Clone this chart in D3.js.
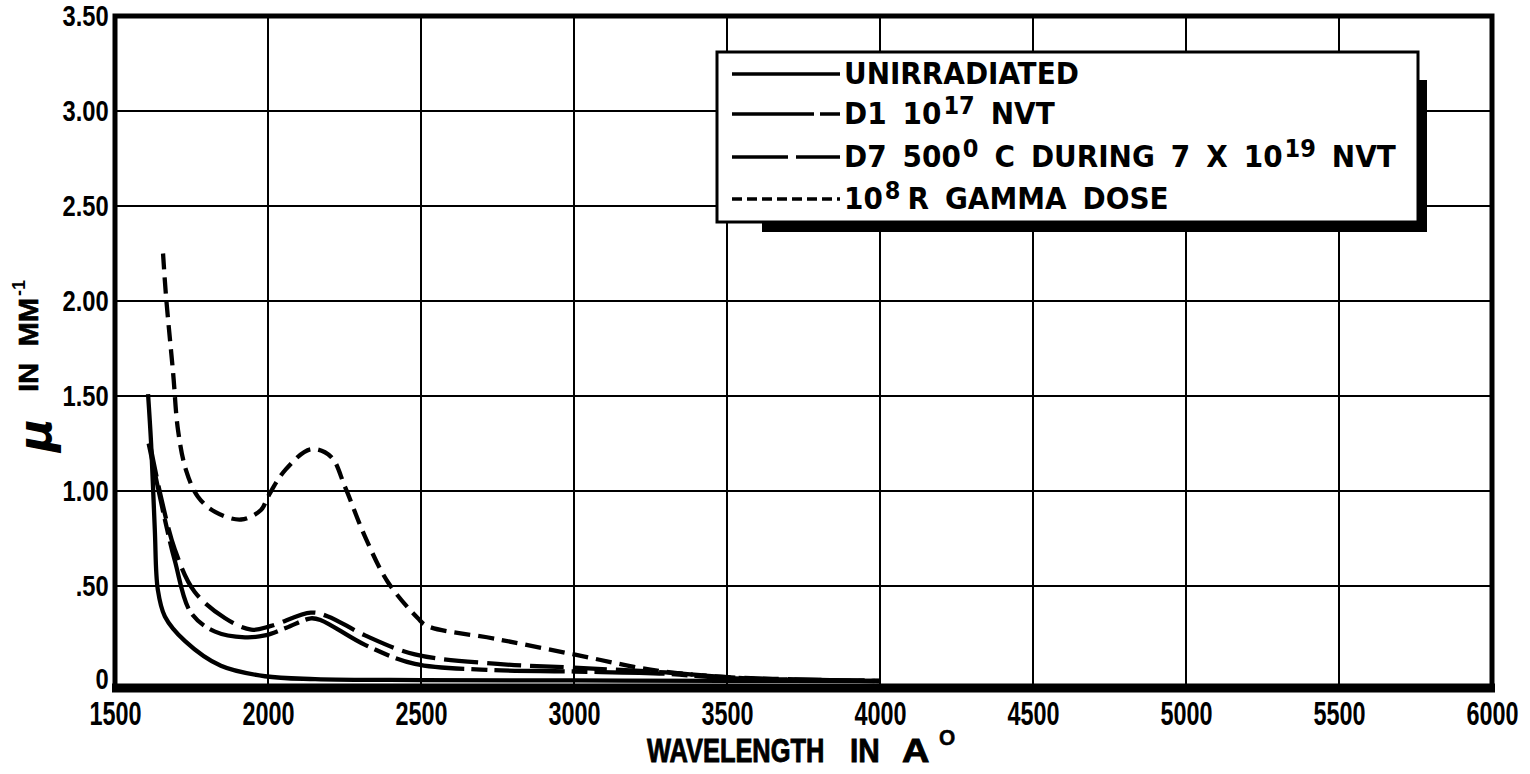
<!DOCTYPE html>
<html><head><meta charset="utf-8">
<script src="https://cdn.jsdelivr.net/npm/d3@7"></script>
<style>
body{margin:0;background:#fff;}
text{font-family:"Liberation Sans",Arial,sans-serif;font-weight:bold;fill:#000;}
</style></head><body>
<svg id="c" width="1530" height="774"></svg>
<script>
const xTicks=[1500,2000,2500,3000,3500,4000,4500,5000,5500,6000];
const yTicks=[0,0.5,1.0,1.5,2.0,2.5,3.0,3.5];
const yTickLabels=["0",".50","1.00","1.50","2.00","2.50","3.00","3.50"];
const seriesNames=["UNIRRADIATED","D1","D7","GAMMA"];
const unirrWl=[1608,1618,1630,1640,1663,1729,1846,1990,2154,2500,3000,3500,4000];
const unirrMu=[1.51,1.25,0.80,0.48,0.34,0.21,0.08,0.025,0.01,0.005,0.003,0.001,0.0];
const d1Wl=[1610,1663,1696,1748,1827,1925,1990,2060,2140,2173,2317,2480,2696,3000,3300,3500,3800,4000];
const d1Mu=[1.25,0.85,0.63,0.36,0.26,0.23,0.24,0.28,0.33,0.32,0.19,0.09,0.06,0.05,0.038,0.015,0.006,0.0];
const d7Wl=[1614,1650,1696,1760,1860,1945,2010,2140,2196,2317,2480,2750,3000,3300,3500,3800,4000];
const d7Mu=[1.25,0.97,0.69,0.47,0.33,0.27,0.29,0.36,0.34,0.24,0.14,0.09,0.07,0.045,0.02,0.006,0.0];
const gammaWl=[1657,1667,1690,1706,1732,1771,1827,1912,1977,2000,2056,2140,2206,2252,2317,2392,2490,2520,2750,3000,3250,3500,3700,4000];
const gammaMu=[2.25,2.02,1.62,1.32,1.11,0.97,0.89,0.85,0.90,0.97,1.11,1.22,1.18,1.02,0.76,0.52,0.33,0.29,0.22,0.14,0.06,0.02,0.005,0.0];
const legendLabels=[
  [{t:"UNIRRADIATED"}],
  [{t:"D1"},{t:"10"},{t:"17",sup:true},{t:"NVT"}],
  [{t:"D7"},{t:"500"},{t:"0",sup:true},{t:"C"},{t:"DURING"},{t:"7"},{t:"X"},{t:"10"},{t:"19",sup:true},{t:"NVT"}],
  [{t:"10"},{t:"8",sup:true},{t:"R",tight:true},{t:"GAMMA"},{t:"DOSE"}]
];
const dashes=[null,"70,7,16,7","34,9","16,8"];
const legendDashes=[null,"82,6,20,6","56,8","10,5"];

const svg=d3.select("#c");
const L=115,R=1492,T=16,B=681;
const x=d3.scaleLinear().domain([1500,6000]).range([L,R]);
const y=d3.scaleLinear().domain([0,3.5]).range([B,T]);

// grid
svg.append("g").selectAll("line").data(xTicks.slice(1,-1)).join("line")
 .attr("x1",d=>x(d)).attr("x2",d=>x(d)).attr("y1",T).attr("y2",B+4)
 .attr("stroke","#000").attr("stroke-width",2);
svg.append("g").selectAll("line").data(yTicks.slice(1,-1)).join("line")
 .attr("x1",L).attr("x2",R).attr("y1",d=>y(d)).attr("y2",d=>y(d))
 .attr("stroke","#000").attr("stroke-width",2);

// tick labels via d3 axes
const xa=svg.append("g").attr("transform",`translate(0,${B})`)
 .call(d3.axisBottom(x).tickValues(xTicks).tickSize(0).tickPadding(21).tickFormat(d3.format("d")));
xa.select(".domain").remove();
xa.selectAll("text").attr("font-size",33).attr("font-weight","bold").attr("fill","#000")
 .style("font-family",'"Liberation Sans",Arial,sans-serif').attr("transform","scale(0.71,1)");
const ya=svg.append("g").attr("transform",`translate(${L},0)`)
 .call(d3.axisLeft(y).tickValues(yTicks).tickSize(0).tickPadding(8).tickFormat((d,i)=>yTickLabels[i]));
ya.select(".domain").remove();
ya.selectAll("text").attr("font-size",30).attr("font-weight","bold").attr("fill","#000")
 .style("font-family",'"Liberation Sans",Arial,sans-serif').attr("transform","scale(0.79,1)")
 .attr("dy",(d)=>d===0?"0.25em":"0.32em");

// curves
const line=d3.line().x(d=>x(d[0])).y(d=>y(d[1])).curve(d3.curveCatmullRom.alpha(0.5));
const series=[[unirrWl,unirrMu],[d1Wl,d1Mu],[d7Wl,d7Mu],[gammaWl,gammaMu]];
series.forEach((s,i)=>{
  const pts=s[0].map((w,j)=>[w,s[1][j]]);
  svg.append("path").attr("d",line(pts)).attr("fill","none").attr("stroke","#000")
   .attr("stroke-width",4.3).attr("stroke-dasharray",dashes[i]).attr("stroke-linejoin","round");
});

// frame
svg.append("rect").attr("x",L).attr("y",T).attr("width",R-L).attr("height",B-T+6)
 .attr("fill","none").attr("stroke","#000").attr("stroke-width",5);
svg.append("line").attr("x1",L-3).attr("x2",R+3).attr("y1",688).attr("y2",688).attr("stroke","#000").attr("stroke-width",9);

// legend
const lx=717,ly=52,lw=701,lh=170;
svg.append("rect").attr("x",762).attr("y",80).attr("width",1427-762).attr("height",232-80).attr("fill","#000");
svg.append("rect").attr("x",lx).attr("y",ly).attr("width",lw).attr("height",lh).attr("fill","#fff").attr("stroke","#000").attr("stroke-width",3);
const rows=[74,114,157,199];
const lfont='"DejaVu Sans Condensed","DejaVu Sans",sans-serif';
legendLabels.forEach((parts,i)=>{
  svg.append("line").attr("x1",732).attr("x2",840).attr("y1",rows[i]).attr("y2",rows[i])
   .attr("stroke","#000").attr("stroke-width",3.5).attr("stroke-dasharray",legendDashes[i]);
  let cx=844;
  parts.forEach((p,j)=>{
    if(j>0){ cx += p.sup ? 2 : (p.tight ? 7 : 16); }
    const t=svg.append("text").attr("x",cx).attr("y",rows[i]+10-(p.sup?10:0))
      .attr("font-size",p.sup?25:31).style("font-family",lfont).text(p.t);
    cx += t.node().getComputedTextLength();
  });
});

// axis titles
const xTitleWords=[{t:"WAVELENGTH",x:647,sx:0.77},{t:"IN",x:850,sx:0.9},{t:"A",x:902,sx:1.15}];
xTitleWords.forEach(w=>{
  svg.append("g").attr("transform",`translate(${w.x},762) scale(${w.sx},1)`)
   .append("text").attr("font-size",33).attr("stroke","#000").attr("stroke-width",0.9).text(w.t);
});
svg.append("g").attr("transform","translate(939,745) scale(0.95,1)")
 .append("text").attr("font-size",22).attr("stroke","#000").attr("stroke-width",0.5).text("O");

const yg=svg.append("g").attr("transform","translate(38,452) rotate(-90)");
yg.append("text").attr("x",0).attr("y",13).attr("font-size",46).attr("font-style","italic")
 .style("font-family",'"DejaVu Sans",sans-serif').text("μ");
yg.append("text").attr("x",60).attr("y",0).attr("font-size",27).attr("xml:space","preserve")
 .attr("stroke","#000").attr("stroke-width",0.6)
 .attr("textLength",94).attr("lengthAdjust","spacingAndGlyphs").text("IN  MM");
yg.append("text").attr("x",156).attr("y",-13).attr("font-size",18).text("-1");
</script></body></html>
